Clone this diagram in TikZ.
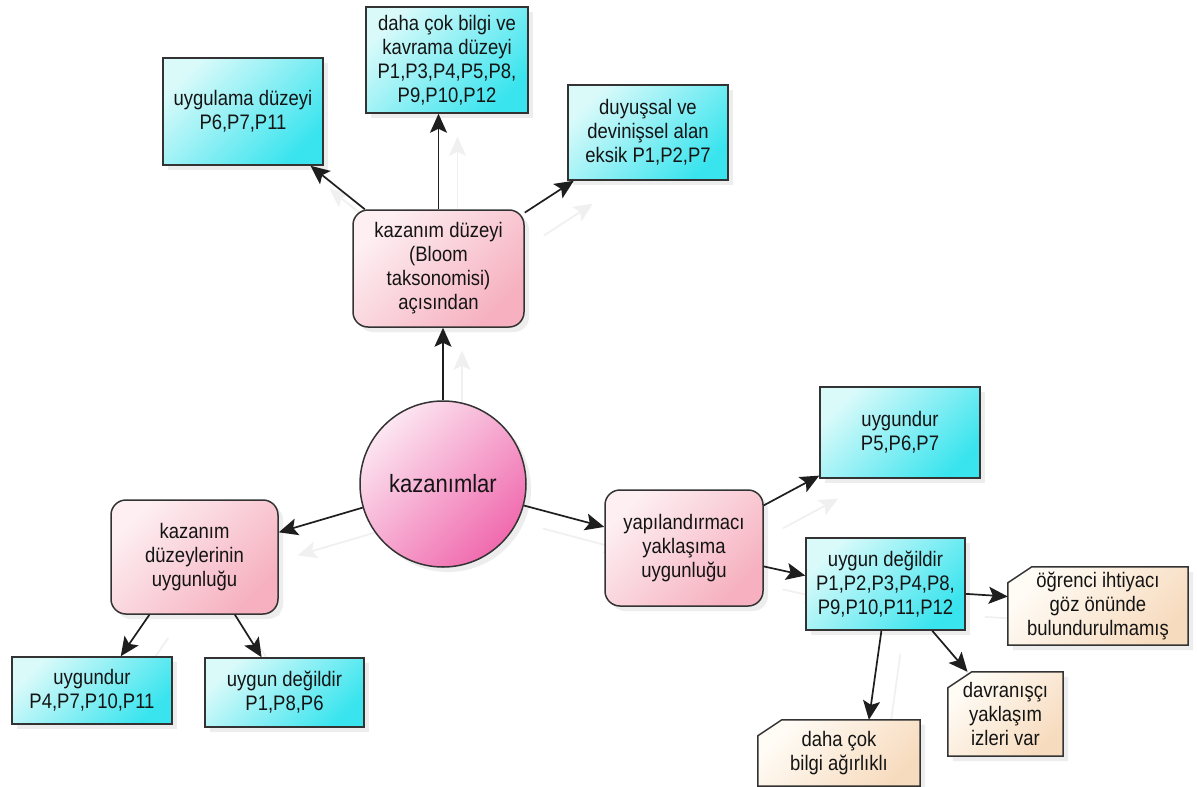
\documentclass[tikz,border=0pt]{standalone}
\usepackage{fontspec}
\setmainfont{Liberation Sans}[FakeStretch=0.88]
\usetikzlibrary{arrows.meta,shadows}
\definecolor{cyanL}{HTML}{DAFAFA}
\definecolor{cyanD}{HTML}{3AE4EE}
\definecolor{pinkL}{HTML}{FDEFF2}
\definecolor{pinkD}{HTML}{F6B0BF}
\definecolor{magL}{HTML}{FCE6F1}
\definecolor{magD}{HTML}{F06AAE}
\definecolor{noteL}{HTML}{FFFCF6}
\definecolor{noteD}{HTML}{F7DBBE}
\definecolor{edgec}{HTML}{333333}
\definecolor{arrc}{HTML}{1E1E1E}
\definecolor{ghostc}{HTML}{F0F0F0}
\pgfdeclarelayer{bgwhite}
\pgfdeclarelayer{ghost}
\pgfdeclarelayer{notes}
\pgfsetlayers{bgwhite,ghost,notes,main}
\newcommand\myconn[2]{%
  \begin{pgfonlayer}{ghost}\draw[ghosta] #1 -- #2;\end{pgfonlayer}%
  \draw[arr] #1 -- #2;}
\begin{document}
\begin{tikzpicture}[x=1pt,y=-1pt,
  every node/.style={font=\fontsize{21}{24}\selectfont, align=center, text=black!92, inner sep=2pt},
  shad/.style={drop shadow={shadow xshift=5pt,shadow yshift=-5pt,opacity=.14}},
  cbox/.style={draw=edgec, line width=1.5pt, shad, top color=cyanL, bottom color=cyanD, shading angle=45},
  pbox/.style={draw=edgec, line width=1.5pt, rounded corners=15pt, shad, top color=pinkL, bottom color=pinkD, shading angle=45},
  circ/.style={circle, draw=edgec, line width=1.5pt, shad, top color=magL, bottom color=magD, shading angle=45, font=\fontsize{25}{28}\selectfont},
  nbox/.style={rectangle},
  notepath/.style={draw=edgec, line width=1.5pt, shad, top color=noteL, bottom color=noteD, shading angle=45},
  arr/.style={draw=arrc, line width=1.7pt, -{Stealth[length=19pt,width=17pt,inset=4pt]}},
  ghosta/.style={draw=ghostc, line width=1.7pt, -{Stealth[length=19pt,width=17pt,inset=4pt]}, transform canvas={shift={(19pt,-23pt)}}}
]
\useasboundingbox (0,0) rectangle (1197,787);
\begin{pgfonlayer}{bgwhite}
\fill[white] (0,0) rectangle (1197,787);
\end{pgfonlayer}

\node[cbox, minimum width=160pt, minimum height=107pt] (ug) at (243,111.5) {uygulama düzeyi\\P6,P7,P11};
\node[cbox, minimum width=162pt, minimum height=106pt] (dc) at (447,60) {daha çok bilgi ve\\kavrama düzeyi\\P1,P3,P4,P5,P8,\\P9,P10,P12};
\node[cbox, minimum width=160pt, minimum height=95pt] (dv) at (648,132.5) {duyuşsal ve\\devinişsel alan\\eksik P1,P2,P7};
\node[pbox, minimum width=171pt, minimum height=117pt] (kd) at (438.5,268.5) {kazanım düzeyi\\(Bloom\\taksonomisi)\\açısından};
\node[circ, minimum size=166pt] (kz) at (443,484) {kazanımlar};
\node[pbox, minimum width=167pt, minimum height=114pt] (kdu) at (194.5,557) {kazanım\\düzeylerinin\\uygunluğu};
\node[cbox, minimum width=160pt, minimum height=67pt] (u1) at (92,690.5) {uygundur\\P4,P7,P10,P11};
\node[cbox, minimum width=159pt, minimum height=69pt] (u2) at (284.5,692.5) {uygun değildir\\P1,P8,P6};
\node[cbox, minimum width=160pt, minimum height=91pt] (u3) at (900,432.5) {uygundur\\P5,P6,P7};
\node[pbox, minimum width=158pt, minimum height=116pt] (yp) at (684,548) {yapılandırmacı\\yaklaşıma\\uygunluğu};
\node[cbox, minimum width=159pt, minimum height=92pt] (ud) at (885.5,584) {uygun değildir\\P1,P2,P3,P4,P8,\\P9,P10,P11,P12};
\node[nbox, minimum width=180pt, minimum height=78pt] (og) at (1098,606) {öğrenci ihtiyacı\\göz önünde\\bulundurulmamış};
\node[nbox, minimum width=115pt, minimum height=84pt] (dvr) at (1005.5,714) {davranışçı\\yaklaşım\\izleri var};
\node[nbox, minimum width=162pt, minimum height=66pt] (dcb) at (839,753) {daha çok\\bilgi ağırlıklı};

\begin{pgfonlayer}{notes}
\foreach \n in {og,dvr,dcb}{
  \path[notepath] ([xshift=24pt]\n.north west) -- (\n.north east) -- (\n.south east)
    -- (\n.south west) -- ([yshift=-16pt]\n.north west) -- cycle;
}
\end{pgfonlayer}

\myconn{(kd)}{(ug)}
\myconn{(kd.north)}{(kd.north |- dc.south)}
\myconn{(kd)}{(dv)}
\myconn{(kz.north)}{(kz.north |- kd.south)}
\myconn{(kz)}{(kdu)}
\myconn{(kdu.232)}{(u1.50)}
\myconn{(kdu.305)}{(u2.123)}
\myconn{(kz)}{(yp)}
\myconn{(yp)}{(u3)}
\myconn{(yp.347)}{(ud.174)}
\myconn{(ud.353)}{(og.174)}
\myconn{(ud.265)}{(dcb.48)}
\myconn{(ud.315)}{(dvr.132)}
\end{tikzpicture}
\end{document}
